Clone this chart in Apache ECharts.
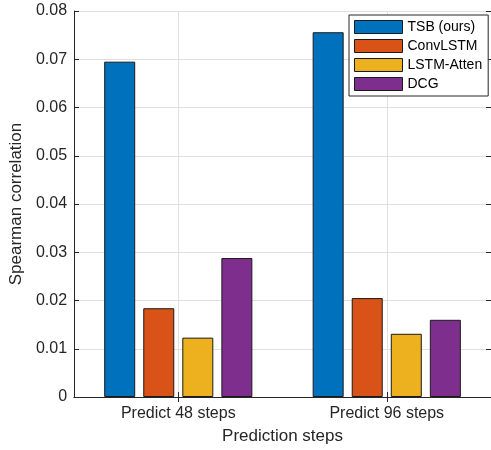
<!DOCTYPE html>
<html>
<head>
<meta charset="utf-8">
<script src="https://cdn.jsdelivr.net/npm/echarts@6/dist/echarts.min.js"></script>
<style>
  html, body { margin: 0; padding: 0; background: #fff; }
  #chart { width: 491px; height: 450px; }
</style>
</head>
<body>
<div id="chart"></div>
<script>
// 数据
const categories = ['Predict 48 steps', 'Predict 96 steps'];
const methods = ['TSB (ours)', 'ConvLSTM', 'LSTM-Atten', 'DCG'];
const tsbValues = [0.0695, 0.0756];
const convLstmValues = [0.0184, 0.0205];
const lstmAttenValues = [0.0123, 0.0131];
const dcgValues = [0.0288, 0.0160];
const yTicks = [0, 0.01, 0.02, 0.03, 0.04, 0.05, 0.06, 0.07, 0.08];

// MATLAB 默认配色
const colors = ['#0072BD', '#D95319', '#EDB120', '#7E2F8E'];
const seriesValues = [tsbValues, convLstmValues, lstmAttenValues, dcgValues];

const axisColor = '#262626';
const gridColor = '#e0e0e0';
const font = 'Liberation Sans, Arial, Helvetica, sans-serif';

const chart = echarts.init(document.getElementById('chart'));

chart.setOption({
    animation: false,
    textStyle: { fontFamily: font, color: axisColor },
    color: colors,
    grid: { left: 71, top: 11, right: -3, bottom: 52, containLabel: false },
    legend: {
        orient: 'vertical',
        left: 349,
        top: 15,
        padding: [5, 6, 5, 5],
        itemWidth: 48,
        itemHeight: 13,
        itemGap: 5,
        icon: 'rect',
        backgroundColor: '#fff',
        borderColor: axisColor,
        borderWidth: 1,
        borderRadius: 0,
        textStyle: { fontFamily: font, fontSize: 14, color: '#000' },
        itemStyle: { borderColor: '#1a1a1a', borderWidth: 1 },
        data: methods
    },
    xAxis: [{
        type: 'category',
        data: categories,
        position: 'bottom',
        name: 'Prediction steps',
        nameLocation: 'middle',
        nameGap: 31,
        nameTextStyle: { fontFamily: font, fontSize: 17, color: axisColor },
        axisLine: { show: true, lineStyle: { color: axisColor, width: 1 } },
        axisTick: { show: true, inside: true, length: 5, alignWithLabel: true, lineStyle: { color: axisColor } },
        axisLabel: { fontFamily: font, fontSize: 16, color: axisColor, margin: 9 },
        // 竖向网格线对齐到类目中心
        splitLine: { show: true, alignWithLabel: true, interval: 0, lineStyle: { color: gridColor, width: 1 } }
    }, {
        type: 'category',
        data: categories,
        position: 'top',
        axisLine: { show: true, lineStyle: { color: axisColor, width: 1 } },
        axisTick: { show: true, inside: true, length: 5, alignWithLabel: true, lineStyle: { color: axisColor } },
        axisLabel: { show: false },
        splitLine: { show: false }
    }],
    yAxis: [{
        type: 'value',
        min: 0,
        max: 0.08,
        interval: 0.01,
        position: 'left',
        name: 'Spearman correlation',
        nameLocation: 'middle',
        nameGap: 41,
        nameTextStyle: { fontFamily: font, fontSize: 17, color: axisColor },
        axisLine: { show: true, lineStyle: { color: axisColor, width: 1 } },
        axisTick: { show: true, inside: true, length: 5, lineStyle: { color: axisColor } },
        axisLabel: {
            fontFamily: font, fontSize: 16, color: axisColor, margin: 7,
            formatter: v => {
                const t = yTicks.find(x => Math.abs(x - v) < 1e-9);
                return t === undefined ? '' : String(t);
            }
        },
        splitLine: { show: true, lineStyle: { color: gridColor, width: 1 } }
    }, {
        type: 'value',
        min: 0,
        max: 0.08,
        interval: 0.01,
        position: 'right',
        axisLine: { show: true, lineStyle: { color: axisColor, width: 1 } },
        axisTick: { show: true, inside: true, length: 5, lineStyle: { color: axisColor } },
        axisLabel: { show: false },
        splitLine: { show: false }
    }],
    series: methods.map((name, i) => ({
        name: name,
        type: 'bar',
        xAxisIndex: 0,
        yAxisIndex: 0,
        data: seriesValues[i],
        barWidth: 31,
        barGap: '26%',
        itemStyle: { color: colors[i], borderColor: '#1a1a1a', borderWidth: 1 }
    }))
});
</script>
</body>
</html>
